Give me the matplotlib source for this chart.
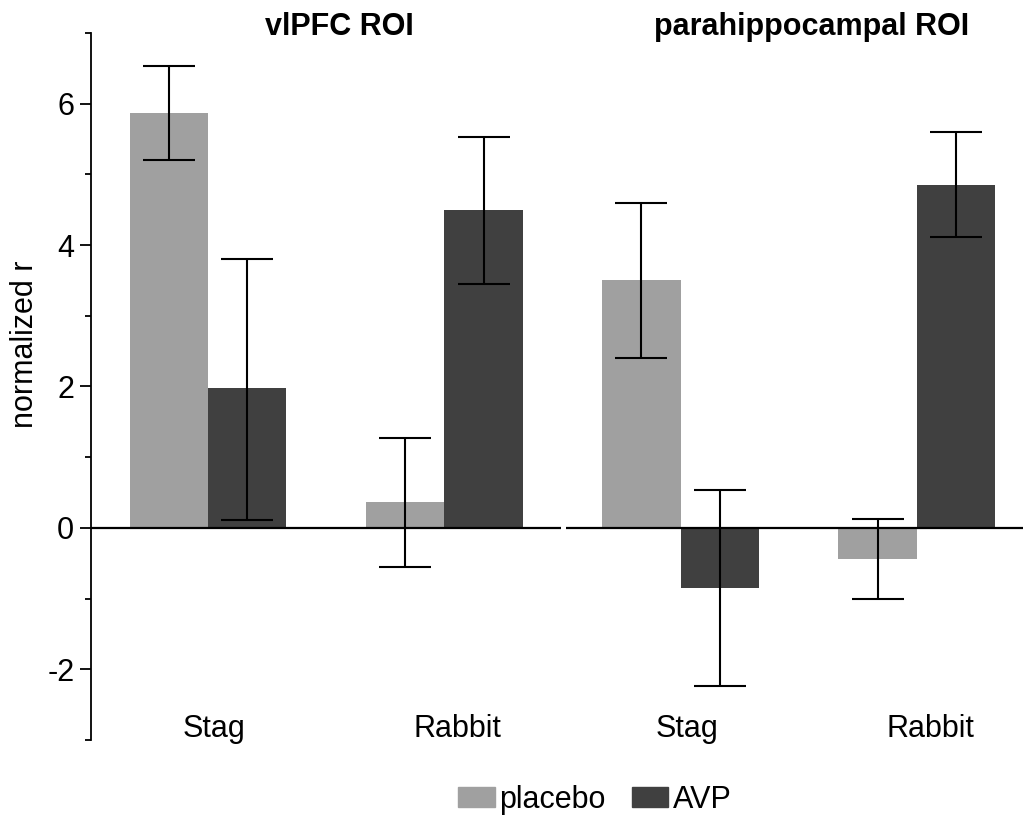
import numpy as np
import matplotlib
matplotlib.use("Agg")
import matplotlib.pyplot as plt
import matplotlib.transforms as mtransforms
from matplotlib.patches import Patch

plt.rcParams['font.family'] = ['Liberation Sans', 'DejaVu Sans']
plt.rcParams['axes.unicode_minus'] = False

# data
groups = ['Stag', 'Rabbit', 'Stag', 'Rabbit']
panels = ['vlPFC ROI', 'parahippocampal ROI']
placebo = [5.87, 0.37, 3.50, -0.44]
placebo_lo = [5.21, -0.55, 2.41, -1.00]
placebo_hi = [6.54, 1.27, 4.60, 0.13]
avp = [1.98, 4.50, -0.85, 4.85]
avp_lo = [0.11, 3.45, -2.24, 4.12]
avp_hi = [3.81, 5.53, 0.54, 5.60]

c_placebo = '#a0a0a0'
c_avp = '#404040'
fs = 22

fig = plt.figure(figsize=(10.23, 8.18), dpi=100)
ax = fig.add_axes([91/1023, 1 - 740/818, 1 - 91/1023, 707/818])

x = np.arange(len(groups))
w = 0.332

ax.bar(x - w/2, placebo, w, color=c_placebo, zorder=1)
ax.bar(x + w/2, avp, w, color=c_avp, zorder=1)

err_pl = [np.array(placebo) - np.array(placebo_lo), np.array(placebo_hi) - np.array(placebo)]
err_av = [np.array(avp) - np.array(avp_lo), np.array(avp_hi) - np.array(avp)]
ax.errorbar(x - w/2, placebo, yerr=err_pl, fmt='none', ecolor='black',
            elinewidth=1.5, capsize=18.5, capthick=1.5, zorder=3)
ax.errorbar(x + w/2, avp, yerr=err_av, fmt='none', ecolor='black',
            elinewidth=1.5, capsize=18.5, capthick=1.5, zorder=3)

xlo, xhi = -0.495, 3.449
ax.set_xlim(xlo, xhi)
ax.set_ylim(-3, 7)

# zero line, broken between the two panels
ax.hlines(0, xlo, 1.494, color='black', lw=1.6, zorder=2)
ax.hlines(0, 1.515, xhi, color='black', lw=1.6, zorder=2)

for s in ['top', 'right', 'bottom']:
    ax.spines[s].set_visible(False)
ax.spines['left'].set_linewidth(1.3)

ax.set_yticks([-2, 0, 2, 4, 6])
ax.set_yticks([-3, -1, 1, 3, 5, 7], minor=True)
ax.tick_params(axis='y', which='major', length=8, width=1.3, labelsize=fs, pad=4)
ax.tick_params(axis='y', which='minor', length=4.5, width=1.3)

ax.set_xticks(x)
ax.set_xticklabels(groups, fontsize=fs)
ax.tick_params(axis='x', length=0, pad=-19)
# labels sit a little right of the group centres in the original
for lab in ax.get_xticklabels():
    dx = 6 if lab.get_text() == 'Stag' else 13.5
    lab.set_transform(lab.get_transform() +
                      mtransforms.ScaledTranslation(dx / 100, 0, fig.dpi_scale_trans))

ax.set_ylabel('normalized r', fontsize=fs)
ax.yaxis.set_label_coords(-0.055, 0.56)

for cx, name in zip([0.555, 2.555], panels):
    ax.text(cx, 7.09, name, ha='center', va='center', fontsize=fs,
            fontweight='bold', clip_on=False)

handles = [Patch(color=c_placebo, label='placebo'), Patch(color=c_avp, label='AVP')]
fig.legend(handles=handles, loc='center', bbox_to_anchor=(595/1023, 1 - 800/818),
           ncol=2, frameon=False, fontsize=fs, handlelength=1.2, handleheight=0.65,
           handletextpad=0.15, columnspacing=0.85, borderpad=0)

fig.savefig('out.png', dpi=100)
